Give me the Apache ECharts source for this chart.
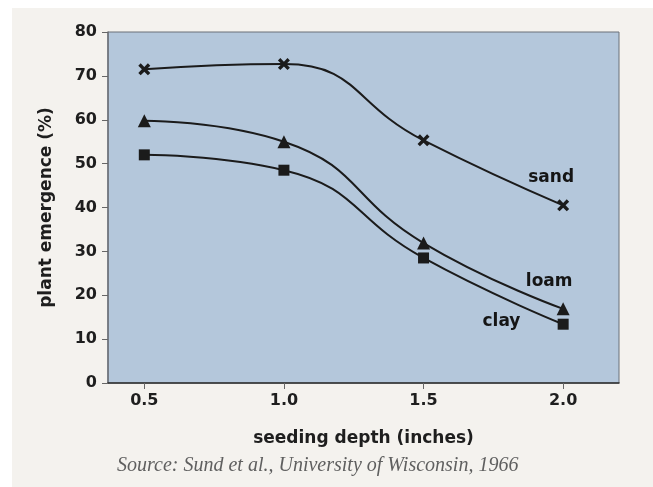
<!DOCTYPE html>
<html><head><meta charset="utf-8">
<script src="https://cdn.jsdelivr.net/npm/echarts@6/dist/echarts.min.js"></script>
<style>html,body{margin:0;padding:0;background:#fff}#c{width:653px;height:487px}</style>
</head><body><div id="c"></div>
<script>
const depths = [0.5, 1.0, 1.5, 2.0];
const sand = [71.5, 72.7, 55.3, 40.5];
const loam = [59.8, 55.0, 31.9, 16.9];
const clay = [52.0, 48.5, 28.5, 13.4];
const xTicks = [0.5, 1.0, 1.5, 2.0];
const labelNames = ['sand', 'loam', 'clay'];
const labelX = [1.957, 1.95, 1.779];
const labelY = [46.9, 23.2, 13.9];

const xShape = 'path://M0,2 L2,0 L5,3 L8,0 L10,2 L7,5 L10,8 L8,10 L5,7 L2,10 L0,8 L3,5 Z';
const lineColor = '#1b1b1b';
const font = '"DejaVu Sans", sans-serif';

function mk(name, vals, symbol, size) {
  return {
    name: name, type: 'line', smooth: 0.5,
    data: depths.map((d, i) => [d, vals[i]]),
    symbol: symbol, symbolSize: size,
    showAllSymbol: true,
    lineStyle: { color: lineColor, width: 2 },
    itemStyle: { color: lineColor, borderWidth: 0 },
    z: 3
  };
}

const chart = echarts.init(document.getElementById('c'), null, { renderer: 'canvas' });
chart.setOption({
  backgroundColor: '#ffffff',
  animation: false,
  graphic: [
    { type: 'rect', shape: { x: 12, y: 8, width: 641, height: 479 }, style: { fill: '#f4f2ee' }, z: -10, silent: true },
    { type: 'text', left: 117, top: 456, style: { text: 'Source: Sund et al., University of Wisconsin, 1966', font: 'italic 20px "Liberation Serif", serif', fill: '#5f5f5f' } }
  ],
  grid: { left: 108, top: 32, right: 34, bottom: 104, show: true, backgroundColor: '#b4c7db', borderColor: '#6b7178', borderWidth: 1 },
  xAxis: {
    type: 'value', min: 0.37, max: 2.2,
    name: 'seeding depth (inches)', nameLocation: 'middle', nameGap: 47,
    nameTextStyle: { fontFamily: font, fontWeight: 'bold', fontSize: 17, color: '#1e1e1e' },
    axisLine: { show: true, lineStyle: { color: '#2e2e2e', width: 1.5 } },
    axisTick: { show: true, length: 6, customValues: xTicks, lineStyle: { color: '#666' } },
    axisLabel: { customValues: xTicks, formatter: v => v.toFixed(1), margin: 10, fontFamily: font, fontWeight: 'bold', fontSize: 16, color: '#1e1e1e' },
    splitLine: { show: false }
  },
  yAxis: {
    type: 'value', min: 0, max: 80, interval: 10,
    name: 'plant emergence (%)', nameLocation: 'middle', nameGap: 53,
    nameTextStyle: { fontFamily: font, fontWeight: 'bold', fontSize: 17, color: '#1e1e1e' },
    axisLine: { show: true, lineStyle: { color: '#6b7178', width: 1.5 } },
    axisTick: { show: true, length: 6, lineStyle: { color: '#666' } },
    axisLabel: { margin: 11, fontFamily: font, fontWeight: 'bold', fontSize: 16, color: '#1e1e1e' },
    splitLine: { show: false }
  },
  series: [
    mk('sand', sand, xShape, 12),
    mk('loam', loam, 'triangle', 13),
    mk('clay', clay, 'rect', 11),
    {
      name: 'labels', type: 'scatter', symbolSize: 0, silent: true,
      itemStyle: { opacity: 1 },
      data: labelNames.map((n, i) => ({ value: [labelX[i], labelY[i]], name: n })),
      label: { show: true, position: 'inside', formatter: p => p.name, fontFamily: font, fontWeight: 'bold', fontSize: 17, color: '#151515', textBorderWidth: 0, opacity: 1 }
    }
  ]
});
</script></body></html>
